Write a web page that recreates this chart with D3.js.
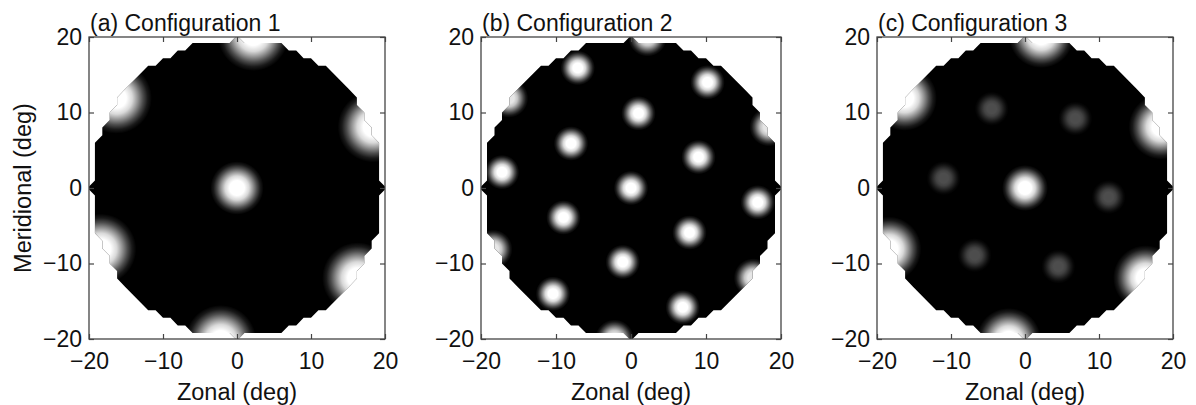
<!DOCTYPE html>
<html>
<head>
<meta charset="utf-8">
<script src="https://cdn.jsdelivr.net/npm/d3@7"></script>
<style>
  body { margin: 0; background: #fff; }
  svg { display: block; font-family: "Liberation Sans", Arial, Helvetica, sans-serif; }
  .tick text { font-size: 23px; fill: #111; }
  .tick line { stroke: #444; stroke-width: 1.2; }
</style>
</head>
<body>
<div id="chart"></div>
<script>
// Three configurations of bright spots inside a circular field of view (deg)

const tickValues = [-20, -10, 0, 10, 20];
const panelTitles = ['(a) Configuration 1', '(b) Configuration 2', '(c) Configuration 3'];
const xLabel = 'Zonal (deg)';
const yLabel = 'Meridional (deg)';

// field of view: sampled on a 1 deg grid, radius 20 deg
const fieldRadius = 20;
const gridStep = 1;

// spots: [zonal, meridional, spot radius (deg), peak brightness 0..1]
const config1Spots = [
  [0, 0, 3.6, 1],
  [2.2, 20.2, 4.8, 1],
  [-16.3, 11.9, 4.8, 1],
  [-18.4, -8.1, 4.8, 1],
  [-2.2, -20.2, 4.8, 1],
  [16.3, -11.9, 4.8, 1],
  [18.4, 8.1, 4.8, 1]
];
const config2Spots = [
  [0, 0, 2.3, 1],
  [1.0, 9.9, 2.3, 1],
  [-8.0, 5.9, 2.3, 1],
  [-9.0, -3.9, 2.3, 1],
  [-1.1, -9.8, 2.3, 1],
  [7.8, -5.9, 2.3, 1],
  [9.0, 4.1, 2.3, 1],
  [-7.1, 15.9, 2.3, 1],
  [10.2, 14.0, 2.3, 1],
  [-17.2, 2.1, 2.3, 1],
  [16.9, -1.9, 2.3, 1],
  [-10.4, -14.0, 2.3, 1],
  [6.9, -15.8, 2.3, 1],
  [2.2, 20.0, 2.6, 0.9],
  [-16.3, 11.9, 2.6, 0.9],
  [-18.4, -8.1, 2.6, 0.9],
  [-2.2, -20.0, 2.6, 0.9],
  [16.3, -11.9, 2.6, 0.9],
  [18.4, 8.1, 2.6, 0.9]
];
const config3Spots = [
  [0, 0, 3.1, 1],
  [-4.5, 10.5, 2.3, 0.3],
  [6.8, 9.2, 2.3, 0.3],
  [-11.0, 1.3, 2.3, 0.3],
  [11.3, -1.2, 2.3, 0.3],
  [-6.8, -8.9, 2.3, 0.3],
  [4.5, -10.4, 2.3, 0.3],
  [2.2, 20.2, 4.4, 1],
  [-16.3, 11.9, 4.4, 1],
  [-18.4, -8.1, 4.4, 1],
  [-2.2, -20.2, 4.4, 1],
  [16.3, -11.9, 4.4, 1],
  [18.4, 8.1, 4.4, 1]
];
const panelSpots = [config1Spots, config2Spots, config3Spots];

// layout
const width = 1196, height = 405;
const panelLeft = [89, 481, 877];
const panelRight = [385, 781, 1173];
const plotTop = 37, plotBottom = 339;

const svg = d3.select('#chart').append('svg')
  .attr('width', width)
  .attr('height', height);

const defs = svg.append('defs');

// soft round spot, white in the middle fading out
const grad = defs.append('radialGradient').attr('id', 'spot');
[[0, 1], [0.28, 1], [0.45, 0.85], [0.6, 0.58], [0.75, 0.3], [0.88, 0.1], [1, 0]].forEach(([o, a]) => {
  grad.append('stop').attr('offset', o).attr('stop-color', '#fff').attr('stop-opacity', a);
});

// mask of the field of view on the sampling grid
const gMin = -fieldRadius - gridStep;
const nGrid = Math.round(2 * (fieldRadius + gridStep) / gridStep) + 1;
const maskValues = [];
for (let j = 0; j < nGrid; j++) {
  for (let i = 0; i < nGrid; i++) {
    const x = gMin + i * gridStep;
    const y = gMin + j * gridStep;
    maskValues.push(x * x + y * y <= fieldRadius * fieldRadius ? 1 : 0);
  }
}
const fovContour = d3.contours().size([nGrid, nGrid]).thresholds([0.8])(maskValues)[0];

panelTitles.forEach((title, p) => {
  const x = d3.scaleLinear().domain([-20, 20]).range([panelLeft[p], panelRight[p]]);
  const y = d3.scaleLinear().domain([-20, 20]).range([plotBottom, plotTop]);

  const gridPath = d3.geoPath(d3.geoTransform({
    point(px, py) {
      this.stream.point(x(gMin + (px - 0.5) * gridStep), y(gMin + (py - 0.5) * gridStep));
    }
  }));

  defs.append('clipPath').attr('id', `box${p}`)
    .append('rect')
    .attr('x', x(-20)).attr('y', y(20))
    .attr('width', x(20) - x(-20)).attr('height', y(-20) - y(20));
  defs.append('clipPath').attr('id', `fov${p}`)
    .append('path').attr('d', gridPath(fovContour));

  const plot = svg.append('g').attr('clip-path', `url(#box${p})`);

  plot.append('path')
    .attr('d', gridPath(fovContour))
    .attr('fill', '#000');

  plot.append('g')
    .attr('clip-path', `url(#fov${p})`)
    .selectAll('circle')
    .data(panelSpots[p])
    .join('circle')
    .attr('cx', d => x(d[0]))
    .attr('cy', d => y(d[1]))
    .attr('r', d => x(d[2]) - x(0))
    .attr('fill', 'url(#spot)')
    .attr('fill-opacity', d => d[3]);

  // axes, MATLAB style: ticks inward on all four sides
  const bottom = svg.append('g')
    .attr('transform', `translate(0,${plotBottom})`)
    .call(d3.axisBottom(x).tickValues(tickValues).tickSizeInner(-5).tickSizeOuter(0).tickPadding(14));
  const left = svg.append('g')
    .attr('transform', `translate(${panelLeft[p]},0)`)
    .call(d3.axisLeft(y).tickValues(tickValues).tickSizeInner(-5).tickSizeOuter(0).tickPadding(7));
  const top = svg.append('g')
    .attr('transform', `translate(0,${plotTop})`)
    .call(d3.axisTop(x).tickValues(tickValues).tickSizeInner(-5).tickSizeOuter(0).tickFormat(''));
  const right = svg.append('g')
    .attr('transform', `translate(${panelRight[p]},0)`)
    .call(d3.axisRight(y).tickValues(tickValues).tickSizeInner(-5).tickSizeOuter(0).tickFormat(''));
  [bottom, left, top, right].forEach(a => {
    a.select('.domain').remove();
    a.attr('font-family', null).attr('font-size', null);
  });

  svg.append('rect')
    .attr('x', x(-20)).attr('y', y(20))
    .attr('width', x(20) - x(-20)).attr('height', y(-20) - y(20))
    .attr('fill', 'none')
    .attr('stroke', '#444')
    .attr('stroke-width', 1.3);

  svg.append('text')
    .attr('x', panelLeft[p] + 1)
    .attr('y', 31)
    .attr('font-size', 23)
    .attr('fill', '#111')
    .text(title);

  svg.append('text')
    .attr('x', (panelLeft[p] + panelRight[p]) / 2)
    .attr('y', 400)
    .attr('text-anchor', 'middle')
    .attr('font-size', 23.5)
    .attr('fill', '#111')
    .text(xLabel);

  if (p === 0) {
    svg.append('text')
      .attr('transform', `translate(31,${(plotTop + plotBottom) / 2}) rotate(-90)`)
      .attr('text-anchor', 'middle')
      .attr('font-size', 23.5)
      .attr('fill', '#111')
      .text(yLabel);
  }
});
</script>
</body>
</html>
